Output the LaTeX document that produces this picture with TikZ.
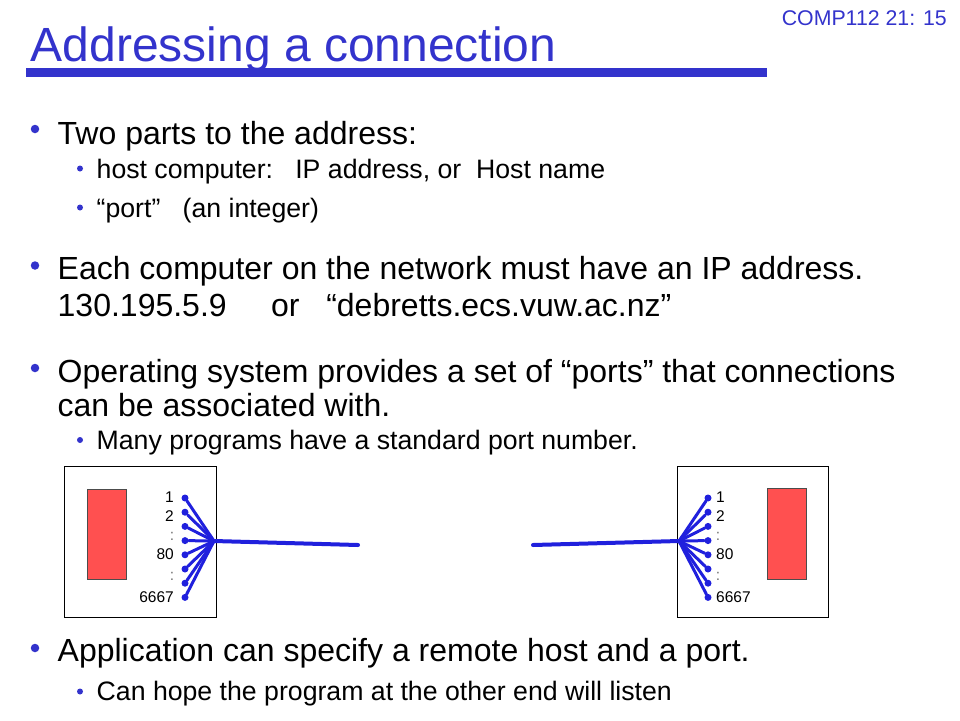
\documentclass[tikz,border=0pt]{standalone}
\usepackage{fontspec}
\setmainfont{Liberation Sans}
\definecolor{titleblue}{HTML}{3333CC}
\definecolor{fanblue}{HTML}{2020DD}
\definecolor{boxred}{HTML}{FF5050}
\begin{document}
\begin{tikzpicture}[x=1pt,y=-1pt,
  titletext/.style={anchor=base west,inner sep=0pt,text=titleblue,font=\fontsize{48}{58}\selectfont},
  headtext/.style={anchor=base east,inner sep=0pt,text=titleblue,font=\fontsize{21.3}{26}\selectfont},
  lone/.style={anchor=base west,inner sep=0pt,font=\fontsize{32}{38}\selectfont},
  ltwo/.style={anchor=base west,inner sep=0pt,font=\fontsize{26.67}{32}\selectfont},
  bone/.style={circle,fill=titleblue,inner sep=0pt,minimum size=8.5pt},
  btwo/.style={circle,fill=titleblue,inner sep=0pt,minimum size=6pt},
  hostbox/.style={draw=black,line width=1pt},
  app/.style={draw=black!70,line width=0.8pt,fill=boxred},
  portdot/.style={circle,fill=fanblue,inner sep=0pt,minimum size=7pt},
  wire/.style={draw=fanblue,line width=3pt,line cap=round},
  trunk/.style={draw=fanblue,line width=4pt,line cap=round},
  plabl/.style={anchor=base east,inner sep=0pt,font=\fontsize{15.5}{18}\selectfont},
  plabr/.style={anchor=base west,inner sep=0pt,font=\fontsize{15.5}{18}\selectfont},
  gap/.style={anchor=base,inner sep=0pt,text=black!55,font=\fontsize{15.5}{18}\selectfont}]
\useasboundingbox[fill=white] (0,0) rectangle (960,720);

% header
\node[headtext] (hdr) at (947,25) {COMP112 21: 15};
\node[titletext] (title) at (30.5,61) {Addressing a connection};
\fill[titleblue] (26,68) rectangle (767,77);

% bullets and text
\node[bone] (b1) at (35,129) {};
\node[lone] (t1) at (57.5,144) {Two parts to the address:};
\node[btwo] (b1a) at (80,168.5) {};
\node[ltwo] (t1a) at (96.5,178) {host computer:~~~IP address, or~~Host name};
\node[btwo] (b1b) at (80,207.5) {};
\node[ltwo] (t1b) at (96.5,217) {“port”~~~(an integer)};

\node[bone] (b2) at (35,265.5) {};
\node[lone] (t2) at (57.5,279) {Each computer on the network must have an IP address.};
\node[lone] (t2b) at (57.5,316) {130.195.5.9~~~~~or~~~“debretts.ecs.vuw.ac.nz”};

\node[bone] (b3) at (35,368) {};
\node[lone] (t3) at (57.5,382) {Operating system provides a set of “ports” that connections};
\node[lone] (t3b) at (57.5,416) {can be associated with.};
\node[btwo] (b3a) at (80,440) {};
\node[ltwo] (t3a) at (96.5,449) {Many programs have a standard port number.};

\node[bone] (b4) at (35,648) {};
\node[lone] (t4) at (57.5,661) {Application can specify a remote host and a port.};
\node[btwo] (b4a) at (80,691.5) {};
\node[ltwo] (t4a) at (96.5,700.5) {Can hope the program at the other end will listen};

% left host
\draw[hostbox] (64,466) rectangle (216,617);
\draw[app] (87,489) rectangle (126,579);
\coordinate (hubL) at (214,541);
\coordinate (endL) at (358,545);
\foreach \i in {0,...,7} {
  \node[portdot] (pl\i) at (185,{498+14.2*\i}) {};
  \draw[wire] (pl\i) -- (hubL);
}
\draw[trunk] (hubL) -- (endL);
\node[plabl] (l1) at (174,502) {1};
\node[plabl] (l2) at (174,521) {2};
\node[gap] (lg1) at (172,540) {:};
\node[plabl] (l80) at (174,559) {80};
\node[gap] (lg2) at (172,580) {:};
\node[plabl] (l6667) at (174,602) {6667};

% right host
\draw[hostbox] (677,466) rectangle (828,617);
\draw[app] (767,488) rectangle (806,579);
\coordinate (hubR) at (679,541);
\coordinate (endR) at (533,545);
\foreach \i in {0,...,7} {
  \node[portdot] (pr\i) at (708,{498+14.2*\i}) {};
  \draw[wire] (pr\i) -- (hubR);
}
\draw[trunk] (hubR) -- (endR);
\node[plabr] (r1) at (716,502) {1};
\node[plabr] (r2) at (716,521) {2};
\node[gap] (rg1) at (718,540) {:};
\node[plabr] (r80) at (716,559) {80};
\node[gap] (rg2) at (718,580) {:};
\node[plabr] (r6667) at (716,602) {6667};
\end{tikzpicture}
\end{document}
